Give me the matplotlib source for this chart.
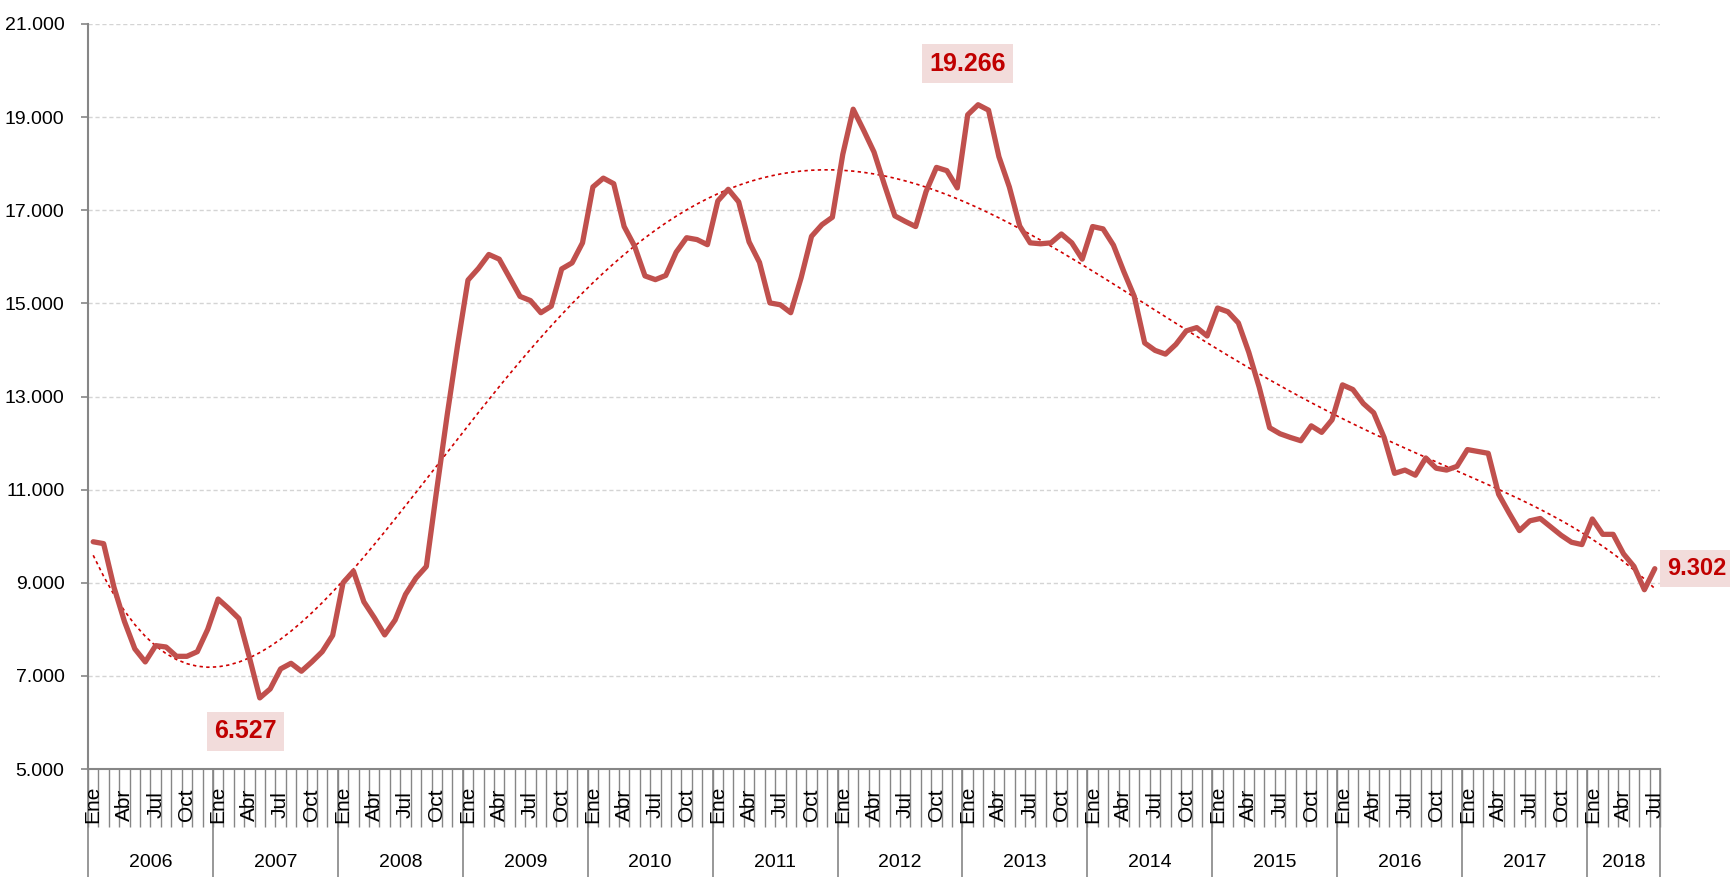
import numpy as np
import matplotlib
matplotlib.use('Agg')
import matplotlib.pyplot as plt
import matplotlib.transforms as mtransforms
from matplotlib.ticker import FuncFormatter

# valores mensuales (Ene 2006 - Jul 2018)
v2006 = [9880, 9840, 8900, 8170, 7580, 7300, 7650, 7620, 7420, 7420, 7520, 8000]
v2007 = [8650, 8450, 8230, 7400, 6527, 6720, 7150, 7270, 7100, 7300, 7520, 7870]
v2008 = [9000, 9250, 8590, 8250, 7880, 8200, 8750, 9100, 9350, 11000, 12600, 14100]
v2009 = [15500, 15750, 16050, 15950, 15550, 15150, 15060, 14800, 14940, 15740, 15870, 16300]
v2010 = [17500, 17690, 17570, 16650, 16230, 15590, 15510, 15600, 16100, 16410, 16370, 16260]
v2011 = [17200, 17450, 17180, 16320, 15880, 15010, 14970, 14800, 15550, 16440, 16690, 16850]
v2012 = [18200, 19170, 18720, 18250, 17550, 16880, 16760, 16650, 17400, 17920, 17850, 17480]
v2013 = [19050, 19266, 19150, 18150, 17500, 16660, 16300, 16280, 16300, 16490, 16300, 15950]
v2014 = [16650, 16600, 16250, 15680, 15150, 14150, 13990, 13910, 14120, 14410, 14480, 14300]
v2015 = [14900, 14820, 14580, 13950, 13200, 12330, 12200, 12120, 12050, 12370, 12230, 12500]
v2016 = [13250, 13150, 12850, 12650, 12120, 11350, 11420, 11310, 11680, 11460, 11420, 11500]
v2017 = [11860, 11820, 11780, 10900, 10500, 10120, 10330, 10380, 10200, 10020, 9870, 9820]
v2018 = [10370, 10040, 10040, 9620, 9350, 8850, 9302]

years = [str(y) for y in range(2006, 2019)]
meses = ['Ene', '', '', 'Abr', '', '', 'Jul', '', '', 'Oct', '', '']

valores = (v2006 + v2007 + v2008 + v2009 + v2010 + v2011 + v2012 + v2013
           + v2014 + v2015 + v2016 + v2017 + v2018)
n = len(valores)
x = np.arange(n) + 0.5
y = np.array(valores, dtype=float)

fuente = ['Liberation Sans', 'DejaVu Sans']

fig = plt.figure(figsize=(17.3, 8.77), dpi=100)
ax = fig.add_axes([88/1730, 108/877, 1572/1730, 745/877])

# tendencia polinomica (orden 5)
t = (x - x.mean()) / x.std()
coef = np.polyfit(t, y, 5)
ax.plot(x, np.polyval(coef, t), color='#D00000', lw=1.2, linestyle=(0, (2, 2)), zorder=2)

ax.plot(x, y, color='#C0504D', lw=3.8, solid_joinstyle='round', solid_capstyle='round', zorder=3)

ax.set_xlim(0, n)
ax.set_ylim(5000, 21000)
ax.set_yticks(range(5000, 21001, 2000))
ax.yaxis.set_major_formatter(FuncFormatter(lambda v, p: f'{int(v):,}'.replace(',', '.')))
ax.yaxis.grid(True, color='#D4D4D4', linestyle=(0, (3, 2)), lw=1)
ax.set_axisbelow(True)
ax.set_xticks([])
for s in ['top', 'right']:
    ax.spines[s].set_visible(False)
for s in ['left', 'bottom']:
    ax.spines[s].set_color('#868686')
    ax.spines[s].set_linewidth(1.5)
ax.tick_params(axis='y', length=5, width=1.2, color='#868686', pad=12)
for lb in ax.get_yticklabels():
    lb.set_family(fuente)
    lb.set_fontsize(14)

# eje de categorias: meses y años
trans = mtransforms.blended_transform_factory(ax.transData, ax.transAxes)
ax.vlines(np.arange(n + 1), -0.078, 0, transform=trans, clip_on=False, color='#868686', lw=1)
cortes = list(range(0, n, 12)) + [n]
ax.vlines(cortes, -0.2, 0, transform=trans, clip_on=False, color='#868686', lw=1.2)
for i in range(n):
    m = meses[i % 12]
    if m:
        ax.text(x[i], -0.048, m, transform=trans, rotation=90, ha='center', va='center',
                fontsize=15, family=fuente)
for k, yr in enumerate(years):
    ini, fin = cortes[k], cortes[k + 1]
    ax.text((ini + fin) / 2, -0.125, yr, transform=trans, ha='center', va='center',
            fontsize=14, family=fuente)

# etiquetas de valores
caja = dict(boxstyle='square,pad=0.3', fc='#F2DCDB', ec='none')
def etiqueta(i, dx, dy, ha='center', size=18):
    ax.annotate(f'{valores[i]:,}'.replace(',', '.'), xy=(x[i], y[i]), xytext=(dx, dy),
                textcoords='offset points', ha=ha, va='center', color='#C00000',
                fontsize=size, fontweight='bold', family=fuente, bbox=caja,
                annotation_clip=False, zorder=5)

etiqueta(int(np.argmax(y)), -7.6, 29.5)
etiqueta(int(np.argmin(y)), -10.3, -24)
etiqueta(n - 1, 9, 0, ha='left', size=17)

fig.savefig('out.png', dpi=100)
